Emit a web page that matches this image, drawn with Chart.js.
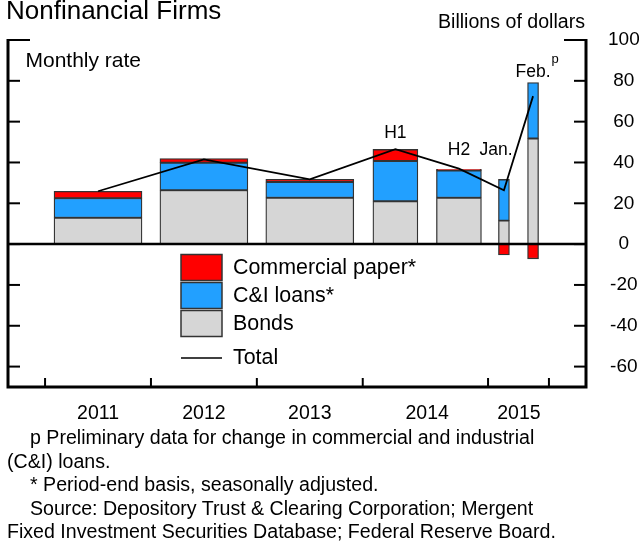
<!DOCTYPE html>
<html>
<head>
<meta charset="utf-8">
<script src="https://cdn.jsdelivr.net/npm/chart.js@4.4.1/dist/chart.umd.min.js"></script>
<style>
  body { margin: 0; background: #fff; }
  #wrap { position: relative; width: 639px; height: 541px; overflow: hidden; font-family: "Liberation Sans", Arial, sans-serif; color: #000; }
  #wrap canvas { position: absolute; left: 0; top: 0; }
  .txt { position: absolute; white-space: nowrap; line-height: 1; }
  #title { left: 6px; top: -3px; font-size: 26px; }
  #units { right: 54px; top: 12px; font-size: 19.6px; }
  #notes { left: 7px; top: 426px; font-size: 19.6px; line-height: 23.6px; }
  #notes .ind { padding-left: 23px; }
</style>
</head>
<body>
<div id="wrap">
  <canvas id="chart" width="639" height="541"></canvas>
  <div class="txt" id="title">Nonfinancial Firms</div>
  <div class="txt" id="units">Billions of dollars</div>
  <div class="txt" id="notes">
    <div class="ind">p Preliminary data for change in commercial and industrial</div>
    <div>(C&amp;I) loans.</div>
    <div class="ind">* Period-end basis, seasonally adjusted.</div>
    <div class="ind">Source: Depository Trust &amp; Clearing Corporation; Mergent</div>
    <div>Fixed Investment Securities Database; Federal Reserve Board.</div>
  </div>
</div>
<script>
// periods shown; x position is in (stretched) months from start of 2011
const periods = ["2011", "2012", "2013", "2014 H1", "2014 H2", "Jan. 2015", "Feb. 2015"];
const periodType = ["year", "year", "year", "half", "half", "month", "month"];
const periodMonth = [6, 18, 30, 39.7, 46.9, 52, 55.3];

// billions of dollars, monthly rate
const bonds = [12.9, 26.4, 22.7, 21.0, 22.7, 11.5, 51.7];
const ciLoans = [9.6, 13.5, 7.7, 19.7, 13.4, 20.2, 27.5];
const commPaper = [3.4, 2.0, 1.4, 5.7, 0.6, -5.3, -7.2];
const total = [25.9, 41.5, 31.7, 46.5, 37.0, 26.4, 72.5];

const yearLabels = ["2011", "2012", "2013", "2014", "2015"];
const yearLabelMonth = [6, 18, 30, 43.3, 53.7];
const yearEdgeMonth = [0, 12, 24, 36, 50.2, 57.1];
const yTicks = [100, 80, 60, 40, 20, 0, -20, -40, -60];

const FONT = '"Liberation Sans", Arial, sans-serif';
const series = [
  { label: "Bonds", data: bonds, color: "#d6d6d6" },
  { label: "C&I loans*", data: ciLoans, color: "#22a0ff" },
  { label: "Commercial paper*", data: commPaper, color: "#ff0000" },
];
const thickness = { year: 88, half: 45, month: 11 };

// one set of stacked bars per bar width
const datasets = [];
Object.keys(thickness).forEach((t) => {
  series.forEach((s) => {
    const pts = [];
    periods.forEach((p, i) => {
      if (periodType[i] == t) pts.push({ x: periodMonth[i], y: s.data[i] });
    });
    datasets.push({
      type: "bar",
      label: s.label,
      data: pts,
      backgroundColor: s.color,
      borderColor: "#333",
      borderWidth: 1.3,
      borderSkipped: false,
      barThickness: thickness[t],
      stack: "bars",
      order: 1,
    });
  });
});
datasets.push({
  type: "line",
  label: "Total",
  data: periodMonth.map((m, i) => ({ x: m, y: total[i] })),
  borderColor: "#000",
  borderWidth: 1.8,
  pointRadius: 0,
  tension: 0,
  stack: "total",
  order: 0,
});

const notes = [
  { text: "H1", x: 39.7, y: 52 },
  { text: "H2", x: 46.9, y: 43.6 },
  { text: "Jan.", x: 51.1, y: 43.6 },
  { text: "Feb.", x: 55.3, y: 81.9, sup: "p" },
];

function seg(ctx, x1, y1, x2, y2) {
  ctx.beginPath();
  ctx.moveTo(x1, y1);
  ctx.lineTo(x2, y2);
  ctx.stroke();
}

const framePlugin = {
  id: "frame",
  afterDatasetsDraw(chart) {
    const { ctx, chartArea: a, scales } = chart;
    const x = scales.x, y = scales.y;
    ctx.save();
    ctx.strokeStyle = "#000";
    ctx.lineWidth = 2.5;
    const y0 = y.getPixelForValue(0);
    seg(ctx, a.left, y0, a.right, y0);
    ctx.lineWidth = 3;
    ctx.beginPath();
    ctx.moveTo(a.left, a.top - 1);
    ctx.lineTo(a.left, a.bottom);
    ctx.lineTo(a.right, a.bottom);
    ctx.lineTo(a.right, a.top - 1);
    ctx.stroke();
    ctx.lineWidth = 2;
    yTicks.forEach((v) => {
      const py = y.getPixelForValue(v);
      const len = v == 100 ? 22 : 12;
      seg(ctx, a.left, py, a.left + len, py);
      seg(ctx, a.right - len, py, a.right, py);
    });
    yearEdgeMonth.forEach((m) => {
      const px = x.getPixelForValue(m);
      seg(ctx, px, a.bottom, px, a.bottom - 9);
    });

    // text inside the plot
    ctx.fillStyle = "#000";
    ctx.textBaseline = "alphabetic";
    ctx.textAlign = "left";
    ctx.font = "21px " + FONT;
    ctx.fillText("Monthly rate", a.left + 17.5, a.top + 27);
    notes.forEach((n) => {
      const px = x.getPixelForValue(n.x);
      const py = y.getPixelForValue(n.y);
      ctx.font = "17.5px " + FONT;
      ctx.textAlign = "center";
      ctx.fillText(n.text, px, py);
      if (n.sup) {
        const w = ctx.measureText(n.text).width;
        ctx.font = "13px " + FONT;
        ctx.textAlign = "left";
        ctx.fillText(n.sup, px + w / 2 + 1, py - 13.6);
      }
    });

    // legend
    const lx = 181, ly = 254.5;
    ctx.font = "21.4px " + FONT;
    ctx.textAlign = "left";
    ctx.textBaseline = "middle";
    series.slice().reverse().forEach((s, i) => {
      const top = ly + i * 28;
      ctx.fillStyle = s.color;
      ctx.fillRect(lx, top, 41, 26);
      ctx.strokeStyle = "#333";
      ctx.lineWidth = 1.5;
      ctx.strokeRect(lx, top, 41, 26);
      ctx.fillStyle = "#000";
      ctx.fillText(s.label, lx + 52, top + 13.5);
    });
    ctx.strokeStyle = "#000";
    ctx.lineWidth = 1.5;
    seg(ctx, lx, 358, lx + 41, 358);
    ctx.fillText("Total", lx + 52, 358.5);
    ctx.restore();
  },
};

new Chart(document.getElementById("chart"), {
  data: { datasets: datasets },
  options: {
    responsive: false,
    animation: false,
    layout: { padding: { left: 8, top: 40, right: 0, bottom: 114 } },
    plugins: { legend: { display: false }, tooltip: { enabled: false } },
    scales: {
      x: {
        type: "linear",
        position: "bottom",
        min: -4.2,
        max: 61.3,
        offset: false,
        stacked: true,
        grid: { display: false, drawTicks: false },
        border: { display: false },
        afterBuildTicks: (s) => {
          s.ticks = yearLabelMonth.map((v) => ({ value: v }));
        },
        ticks: {
          autoSkip: false,
          maxRotation: 0,
          padding: 15,
          color: "#000",
          font: { size: 19.5, family: FONT },
          callback: (v, i) => yearLabels[i],
        },
        afterFit: (s) => {
          s.height = 40;
        },
      },
      y: {
        position: "right",
        min: -70,
        max: 100,
        stacked: true,
        grid: { display: false, drawTicks: false },
        border: { display: false },
        afterBuildTicks: (s) => {
          s.ticks = yTicks.map((v) => ({ value: v }));
        },
        ticks: {
          crossAlign: "center",
          padding: 22,
          color: "#000",
          font: { size: 19, family: FONT },
        },
        afterFit: (s) => {
          s.width = 53;
        },
      },
    },
  },
  plugins: [framePlugin],
});
</script>
</body>
</html>
